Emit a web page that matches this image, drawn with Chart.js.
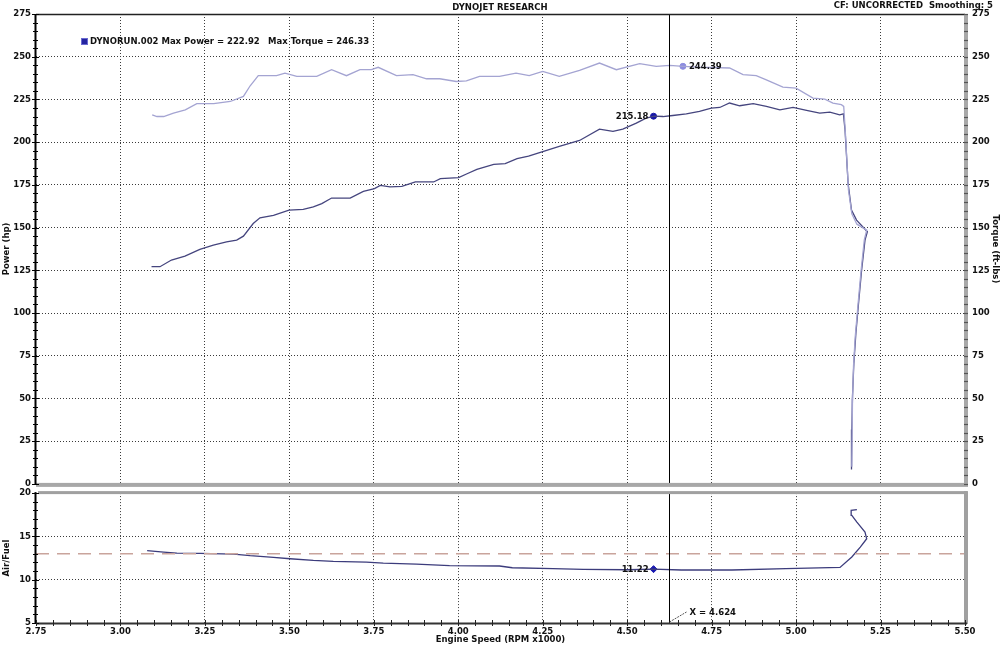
<!DOCTYPE html>
<html>
<head>
<meta charset="utf-8">
<script src="https://cdn.jsdelivr.net/npm/chart.js@4"></script>
<style>
  html,body{margin:0;padding:0;background:#fff;}
  body{width:1000px;height:645px;overflow:hidden;position:relative;font-family:"DejaVu Sans",Verdana,sans-serif;}
  .t{position:absolute;font-weight:bold;font-size:8.5px;color:#111;white-space:pre;line-height:10px;}
  #topBox{position:absolute;left:0;top:0;width:1000px;height:496px;}
  #botBox{position:absolute;left:0;top:483px;width:1000px;height:162px;}
</style>
</head>
<body>
<div id="topBox"><canvas id="c1"></canvas></div>
<div id="botBox"><canvas id="c2"></canvas></div>

<div class="t" style="left:0;width:1000px;text-align:center;top:2px;">DYNOJET RESEARCH</div>
<div class="t" style="right:7px;top:0px;">CF: UNCORRECTED  Smoothing: 5</div>
<div style="position:absolute;left:81px;top:38px;width:5px;height:5px;background:#2424a0;border:1px solid #6a6ad0;"></div>
<div class="t" id="legPow" style="left:90px;top:36px;"></div>
<div class="t" id="legTq" style="left:268px;top:36px;"></div>
<div class="t" id="lblPow"></div>
<div class="t" id="lblTq"></div>
<div class="t" id="lblAfr"></div>
<div class="t" id="lblX"></div>

<script>
// ---------- DATA ----------
const runName = "DYNORUN.002";
const maxPower = 222.92;
const maxTorque = 246.33;

const powerRpm = [3.092,3.117,3.151,3.191,3.235,3.275,3.314,3.344,3.364,3.393,3.413,3.453,3.499,3.541,3.571,3.596,3.625,3.680,3.719,3.752,3.769,3.798,3.833,3.873,3.927,3.947,4.001,4.026,4.055,4.105,4.139,4.174,4.208,4.250,4.299,4.359,4.418,4.458,4.487,4.527,4.556,4.581,4.606,4.635,4.675,4.714,4.749,4.774,4.803,4.833,4.873,4.912,4.952,4.991,5.031,5.070,5.100,5.129,5.140,5.145,5.154,5.164,5.179,5.211,5.204,5.194,5.184,5.177,5.171,5.167,5.165,5.164];
const powerHp  = [127.1,127.1,131.0,133.3,137.2,139.7,141.7,142.7,145.0,152.4,155.7,157.2,160.2,160.7,162.1,164.0,167.3,167.3,171.2,172.8,174.7,173.8,174.1,176.7,176.7,178.6,179.2,181.5,184.1,187.0,187.4,190.3,191.8,194.5,197.5,201.0,207.6,206.3,207.6,211.1,214.1,215.2,215.0,215.6,216.6,218.0,219.9,220.3,222.9,221.3,222.5,220.9,218.9,220.3,218.6,217.0,217.6,216.0,216.6,206.9,175.8,160.2,154.4,147.6,142.7,125.2,103.8,88.2,70.7,51.3,31.8,8.5];

const torqueRpm   = [3.094,3.108,3.128,3.157,3.192,3.226,3.276,3.325,3.364,3.384,3.408,3.462,3.487,3.522,3.581,3.625,3.669,3.709,3.743,3.763,3.817,3.866,3.906,3.945,3.994,4.024,4.063,4.122,4.171,4.210,4.250,4.299,4.359,4.418,4.468,4.537,4.586,4.626,4.665,4.714,4.803,4.843,4.882,4.912,4.961,5.000,5.050,5.085,5.109,5.134,5.141,5.146,5.155,5.165,5.180,5.209,5.202,5.192,5.182,5.175,5.170,5.167,5.166,5.165];
const torqueFtLbs = [216.0,215.0,215.0,217.0,218.9,222.5,222.5,223.8,226.8,233.0,238.9,238.9,240.4,238.5,238.5,242.4,238.9,242.4,242.4,243.8,238.9,239.5,237.1,237.1,235.5,235.9,238.5,238.5,240.4,238.9,241.4,238.5,242.0,246.3,242.4,246.0,244.3,244.9,244.4,243.9,243.4,239.5,238.9,236.5,232.2,231.6,225.8,225.2,222.9,221.9,220.9,205.0,172.0,158.0,152.0,148.5,143.0,124.0,102.0,86.0,69.0,50.0,30.0,10.0];

const afrRpm   = [3.079,3.128,3.167,3.236,3.335,3.384,3.453,3.502,3.571,3.630,3.728,3.778,3.876,3.974,4.122,4.160,4.280,4.370,4.500,4.578,4.660,4.810,4.970,5.130,5.165,5.190,5.209,5.204,5.180,5.165,5.163,5.180];
const afrRatio = [13.35,13.19,13.08,13.04,12.96,12.77,12.58,12.42,12.23,12.12,12.04,11.92,11.81,11.62,11.58,11.38,11.27,11.19,11.15,11.22,11.12,11.12,11.27,11.42,12.62,13.77,14.73,15.50,16.65,17.42,18.00,18.08];
const afrTarget = 13;

// marked points
const powerMark  = {x:4.578, y:215.18};
const torqueMark = {x:4.665, y:244.39};
const afrMark    = {x:4.578, y:11.22};
const cursorRpm  = 4.624;

// axes
const rpmMin = 2.75, rpmMax = 5.50, rpmStep = 0.25;
const hpMin = 0, hpMax = 275, hpStep = 25;
const afrMin = 5, afrMax = 20, afrStep = 5;

// ---------- helpers ----------
const FONT = "'DejaVu Sans', Verdana, sans-serif";
const tickFont = {family: FONT, size: 8.5, weight: 'bold'};
const pts = (xs, ys) => xs.map((x, i) => ({x, y: ys[i]}));
const near = (a, b) => Math.abs(a - b) < 1e-6;
const gridCol = '#3a3a3a';
const BOT_TOP = 483;

document.getElementById('legPow').textContent = runName + " Max Power = " + maxPower.toFixed(2);
document.getElementById('legTq').textContent = "Max Torque = " + maxTorque.toFixed(2);

function seg(ctx, x1, y1, x2, y2, color, w, dash) {
  ctx.save(); ctx.strokeStyle = color; ctx.lineWidth = w; ctx.setLineDash(dash || []);
  ctx.beginPath(); ctx.moveTo(x1, y1); ctx.lineTo(x2, y2); ctx.stroke(); ctx.restore();
}
function place(id, text, x, y, align, offTop) {
  const el = document.getElementById(id);
  el.textContent = text;
  el.style.top = (y - 5 + (offTop || 0)) + 'px';
  if (align === 'right') { el.style.left = 'auto'; el.style.right = (1000 - x) + 'px'; }
  else { el.style.left = x + 'px'; }
}

const topDeco = {
  id: 'topDeco',
  afterDatasetsDraw(chart) {
    const {ctx, chartArea: a, scales} = chart;
    const xs = scales.x, ys = scales.y;
    const cx = Math.round(xs.getPixelForValue(cursorRpm)) + 0.5;
    seg(ctx, cx, a.top, cx, a.bottom, '#000', 1);
    // frame
    seg(ctx, a.left, a.top + 0.5, a.right, a.top + 0.5, '#222', 1.3);
    ctx.save();
    ctx.fillStyle = '#a8a8a8';
    ctx.fillRect(a.left, a.bottom - 1, a.right - a.left + 3, 4);
    ctx.fillRect(a.right - 1, a.top, 4, a.bottom - a.top + 2);
    ctx.restore();
    seg(ctx, a.left - 0.5, a.top, a.left - 0.5, a.bottom, '#000', 2);
    for (let v = hpMin; v <= hpMax + 1e-9; v += 5) {
      const py = Math.round(ys.getPixelForValue(v)) + 0.5;
      const L = (v % 25 === 0) ? 4 : 3;
      seg(ctx, a.left - L, py, a.left + L - 1, py, '#000', 1);
      seg(ctx, a.right - 1, py, a.right + 3, py, '#555', 1.2);
    }
    const pX = xs.getPixelForValue(powerMark.x), pY = ys.getPixelForValue(powerMark.y);
    place('lblPow', powerMark.y.toFixed(2), pX - 5, pY, 'right');
    const tX = xs.getPixelForValue(torqueMark.x), tY = scales.y1.getPixelForValue(torqueMark.y);
    place('lblTq', torqueMark.y.toFixed(2), tX + 6, tY, 'left');
  }
};

const botDeco = {
  id: 'botDeco',
  afterDatasetsDraw(chart) {
    const {ctx, chartArea: a, scales} = chart;
    const xs = scales.x, ys = scales.y;
    const cx = Math.round(xs.getPixelForValue(cursorRpm)) + 0.5;
    seg(ctx, cx, a.top, cx, a.bottom, '#000', 1);
    ctx.save();
    ctx.fillStyle = '#a0a0a0';
    ctx.fillRect(a.left + 2, a.top - 2, a.right - a.left, 3);
    ctx.fillRect(a.right - 1, a.top - 2, 4, a.bottom - a.top + 3);
    ctx.restore();
    seg(ctx, a.left - 0.5, a.top - 1, a.left - 0.5, a.bottom + 1, '#000', 2);
    seg(ctx, a.left, a.bottom + 0.5, a.right + 2, a.bottom + 0.5, '#333', 2);
    for (let v = afrMin; v <= afrMax + 1e-9; v += 1) {
      const py = Math.round(ys.getPixelForValue(v)) + 0.5;
      const L = (v % 5 === 0) ? 4 : 3;
      seg(ctx, a.left - L, py, a.left + L - 1, py, '#000', 1);
    }
    for (let i = 0; i <= Math.round((rpmMax - rpmMin) / 0.05); i++) {
      const v = rpmMin + i * 0.05;
      const px = Math.round(xs.getPixelForValue(v)) + 0.5;
      seg(ctx, px, a.bottom - 3, px, a.bottom + 3, '#222', 1);
    }
    const mX = xs.getPixelForValue(afrMark.x), mY = ys.getPixelForValue(afrMark.y);
    place('lblAfr', afrMark.y.toFixed(2), mX - 5, mY, 'right', BOT_TOP);
    seg(ctx, cx, a.bottom - 1, cx + 17, a.bottom - 11, '#555', 1, [2, 1]);
    place('lblX', 'X = ' + cursorRpm.toFixed(3), cx + 20, a.bottom - 11, 'left', BOT_TOP);
  }
};

Chart.defaults.font.family = FONT;
Chart.defaults.color = '#000';

const xGrid = {
  color: c => (near(c.tick.value, rpmMin) || near(c.tick.value, rpmMax)) ? 'rgba(0,0,0,0)' : gridCol,
  lineWidth: 1, drawTicks: false
};

// ---------- TOP CHART ----------
new Chart(document.getElementById('c1'), {
  type: 'line',
  data: {
    datasets: [
      {label: 'Torque', data: pts(torqueRpm, torqueFtLbs), yAxisID: 'y1', borderColor: '#a4a4d2', borderWidth: 1.3, pointRadius: 0, tension: 0},
      {label: 'Power', data: pts(powerRpm, powerHp), yAxisID: 'y', borderColor: '#45457e', borderWidth: 1.3, pointRadius: 0, tension: 0},
      {label: 'PowerMark', data: [powerMark], yAxisID: 'y', showLine: false, pointRadius: 3, pointBackgroundColor: '#1818a8', pointBorderColor: '#1818a8'},
      {label: 'TorqueMark', data: [torqueMark], yAxisID: 'y1', showLine: false, pointRadius: 3, pointBackgroundColor: '#8c8ce0', pointBorderColor: '#8c8ce0'}
    ]
  },
  options: {
    responsive: true, maintainAspectRatio: false, animation: false, events: [],
    layout: {padding: {top: 14, left: 0, right: 0, bottom: 0}},
    plugins: {legend: {display: false}, tooltip: {enabled: false}},
    scales: {
      x: {
        type: 'linear', min: rpmMin, max: rpmMax,
        ticks: {display: false, stepSize: rpmStep},
        grid: xGrid, border: {display: false, dash: [1, 2]},
        afterFit: s => { s.height = 6; }
      },
      y: {
        position: 'left', min: hpMin, max: hpMax,
        ticks: {stepSize: hpStep, font: tickFont, color: '#111', padding: 5},
        grid: {color: c => (c.tick.value === hpMin || c.tick.value === hpMax) ? 'rgba(0,0,0,0)' : gridCol, drawTicks: false},
        border: {display: false, dash: [1, 2]},
        title: {display: true, text: 'Power (hp)', font: {family: FONT, size: 8.5, weight: 'bold', lineHeight: 1.6}, color: '#111', padding: 0},
        afterFit: s => { s.width = 36; }
      },
      y1: {
        position: 'right', min: hpMin, max: hpMax,
        ticks: {stepSize: hpStep, font: tickFont, color: '#111', padding: 7},
        grid: {drawOnChartArea: false, drawTicks: false},
        border: {display: false},
        title: {display: true, text: 'Torque (ft-lbs)', font: {family: FONT, size: 8.5, weight: 'bold'}, color: '#111', padding: 0},
        afterFit: s => { s.width = 35; }
      }
    }
  },
  plugins: [topDeco]
});

// ---------- BOTTOM CHART ----------
new Chart(document.getElementById('c2'), {
  type: 'line',
  data: {
    datasets: [
      {label: 'Target', data: [{x: rpmMin, y: afrTarget}, {x: rpmMax, y: afrTarget}], borderColor: '#c9a49c', borderWidth: 1.5, borderDash: [13, 8], pointRadius: 0},
      {label: 'Air/Fuel', data: pts(afrRpm, afrRatio), borderColor: '#3c3c7c', borderWidth: 1.3, pointRadius: 0, tension: 0},
      {label: 'AfrMark', data: [afrMark], showLine: false, pointStyle: 'rectRot', pointRadius: 3.5, pointBackgroundColor: '#1818b0', pointBorderColor: '#1818b0'}
    ]
  },
  options: {
    responsive: true, maintainAspectRatio: false, animation: false, events: [],
    layout: {padding: {top: 6, left: 0, right: 35, bottom: 0}},
    plugins: {legend: {display: false}, tooltip: {enabled: false}},
    scales: {
      x: {
        type: 'linear', min: rpmMin, max: rpmMax,
        ticks: {stepSize: rpmStep, font: tickFont, color: '#111', padding: 4, autoSkip: false, maxRotation: 0,
                callback: v => Number(v).toFixed(2)},
        grid: xGrid, border: {display: false, dash: [1, 2]},
        title: {display: true, text: 'Engine Speed (RPM x1000)', font: {family: FONT, size: 8.5, weight: 'bold'}, color: '#111', padding: 0},
        afterFit: s => { s.height = 22; }
      },
      y: {
        position: 'left', min: afrMin, max: afrMax,
        ticks: {stepSize: afrStep, font: tickFont, color: '#111', padding: 5},
        grid: {color: c => (c.tick.value === afrMin || c.tick.value === afrMax) ? 'rgba(0,0,0,0)' : gridCol, drawTicks: false},
        border: {display: false, dash: [1, 2]},
        title: {display: true, text: 'Air/Fuel', font: {family: FONT, size: 8.5, weight: 'bold', lineHeight: 1.6}, color: '#111', padding: 0},
        afterFit: s => { s.width = 36; }
      }
    }
  },
  plugins: [botDeco]
});
</script>
</body>
</html>
